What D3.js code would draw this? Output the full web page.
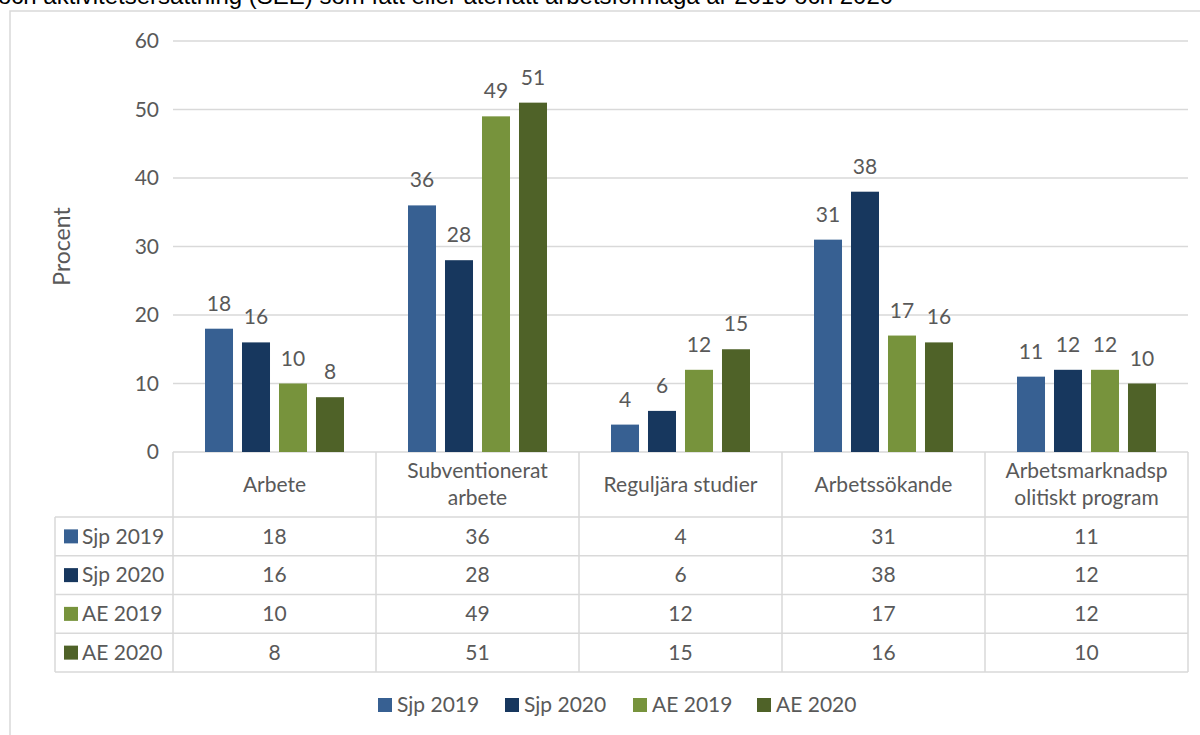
<!DOCTYPE html>
<html>
<head>
<meta charset="utf-8" />
<title>Procent per utfall</title>
<style>
  body { margin: 0; background: #fff; }
  svg { display: block; }
  text { font-family: Lato, "Open Sans", sans-serif; fill: #595959; }
</style>
</head>
<body>
<svg id="svg" width="1200" height="735"></svg>
<script src="https://d3js.org/d3.v7.min.js"></script>
<script>
// data
var categories = ["Arbete", "Subventionerat arbete", "Reguljära studier", "Arbetssökande", "Arbetsmarknadspolitiskt program"];
var headerLines = [["Arbete"], ["Subventionerat", "arbete"], ["Reguljära studier"], ["Arbetssökande"], ["Arbetsmarknadsp", "olitiskt program"]];
var seriesNames = ["Sjp 2019", "Sjp 2020", "AE 2019", "AE 2020"];
var sjp2019 = [18, 36, 4, 31, 11];
var sjp2020 = [16, 28, 6, 38, 12];
var ae2019 = [10, 49, 12, 17, 12];
var ae2020 = [8, 51, 15, 16, 10];
var yTicks = [0, 10, 20, 30, 40, 50, 60];
var colors = ["#376092", "#17375e", "#77933c", "#4f6228"];
var titleText = "och aktivitetsersättning (SEE) som fått eller återfått arbetsförmåga år 2019 och 2020";

var values = [sjp2019, sjp2020, ae2019, ae2020];
var grid = "#d9d9d9";
var fs = "21px";

var svg = d3.select("#svg");

// outer chart frame
svg.append("rect")
  .attr("x", 10).attr("y", 11)
  .attr("width", 1250).attr("height", 800)
  .attr("fill", "#fff").attr("stroke", grid).attr("stroke-width", 1.5);

// cut off title line
svg.append("text")
  .attr("x", -2).attr("y", 4)
  .style("font-family", "'Liberation Sans', Arial, sans-serif")
  .style("font-size", "24px")
  .style("fill", "#000")
  .text(titleText);

var pLeft = 173, pRight = 1188, pTop = 41, pBase = 452;

var x0 = d3.scaleBand().domain(categories).range([pLeft, pRight]);
var x1 = d3.scaleBand().domain(seriesNames).range([32, 171]).paddingInner(0.243);
var y = d3.scaleLinear().domain([0, 60]).range([pBase, pTop]);

// gridlines
svg.append("g").selectAll("line")
  .data(yTicks)
  .enter().append("line")
  .attr("x1", pLeft).attr("x2", pRight)
  .attr("y1", d => y(d)).attr("y2", d => y(d))
  .attr("stroke", grid).attr("stroke-width", 1.5);

// y labels
svg.append("g").selectAll("text")
  .data(yTicks)
  .enter().append("text")
  .attr("x", 159).attr("y", d => y(d))
  .attr("dy", "0.35em")
  .attr("text-anchor", "end")
  .style("font-size", fs)
  .text(d => d);

svg.append("text")
  .attr("transform", "translate(70," + (pTop + pBase) / 2 + ") rotate(-90)")
  .attr("text-anchor", "middle")
  .style("font-size", "23px")
  .text("Procent");

// bars
var groups = svg.append("g").selectAll("g")
  .data(categories)
  .enter().append("g")
  .attr("transform", d => "translate(" + x0(d) + ",0)");

function cells(c, i) {
  return seriesNames.map((s, j) => ({ s: s, v: values[j][i], j: j }));
}

groups.selectAll("rect")
  .data(cells)
  .enter().append("rect")
  .attr("x", d => x1(d.s))
  .attr("width", x1.bandwidth())
  .attr("y", d => y(d.v))
  .attr("height", d => pBase - y(d.v))
  .attr("fill", d => colors[d.j]);

groups.selectAll("text")
  .data(cells)
  .enter().append("text")
  .attr("x", d => x1(d.s) + x1.bandwidth() / 2)
  .attr("y", d => y(d.v) - 18)
  .attr("text-anchor", "middle")
  .style("font-size", fs)
  .text(d => d.v);

// data table
var headBottom = 517, rowH = 38.75, labelLeft = 55;
var rowY = d3.range(seriesNames.length + 1).map(i => headBottom + i * rowH);
var tbl = svg.append("g").attr("stroke", grid).attr("stroke-width", 1.5);

tbl.selectAll(".h").data(rowY).enter().append("line")
  .attr("x1", labelLeft).attr("x2", pRight)
  .attr("y1", d => d).attr("y2", d => d);
var colX = categories.map(c => x0(c)).concat([pRight]);
tbl.selectAll(".v").data(colX).enter().append("line")
  .attr("x1", d => d).attr("x2", d => d)
  .attr("y1", pBase).attr("y2", rowY[rowY.length - 1]);
tbl.append("line")
  .attr("x1", labelLeft).attr("x2", labelLeft)
  .attr("y1", headBottom).attr("y2", rowY[rowY.length - 1]);

// header texts
categories.forEach(function(c, i) {
  var lines = headerLines[i];
  var cy = (pBase + headBottom) / 2;
  var lh = 27;
  lines.forEach(function(l, k) {
    svg.append("text")
      .attr("x", x0(c) + x0.bandwidth() / 2)
      .attr("y", cy + (k - (lines.length - 1) / 2) * lh)
      .attr("dy", "0.35em")
      .attr("text-anchor", "middle")
      .style("font-size", fs)
      .text(l);
  });
});

// row labels and cells
seriesNames.forEach(function(s, j) {
  var cy = rowY[j] + rowH / 2;
  svg.append("rect")
    .attr("x", 64).attr("y", cy - 7)
    .attr("width", 14).attr("height", 14)
    .attr("fill", colors[j]);
  svg.append("text")
    .attr("x", 82).attr("y", cy).attr("dy", "0.35em")
    .style("font-size", fs)
    .text(s);
  categories.forEach(function(c, i) {
    svg.append("text")
      .attr("x", x0(c) + x0.bandwidth() / 2)
      .attr("y", cy).attr("dy", "0.35em")
      .attr("text-anchor", "middle")
      .style("font-size", fs)
      .text(values[j][i]);
  });
});

// legend
var legX = [378, 505, 633, 757];
var leg = svg.append("g").selectAll("g")
  .data(seriesNames)
  .enter().append("g")
  .attr("transform", (d, i) => "translate(" + legX[i] + ",705)");
leg.append("rect")
  .attr("x", 0).attr("y", -7)
  .attr("width", 14).attr("height", 14)
  .attr("fill", (d, i) => colors[i]);
leg.append("text")
  .attr("x", 19).attr("dy", "0.35em")
  .style("font-size", fs)
  .text(d => d);
</script>
</body>
</html>
